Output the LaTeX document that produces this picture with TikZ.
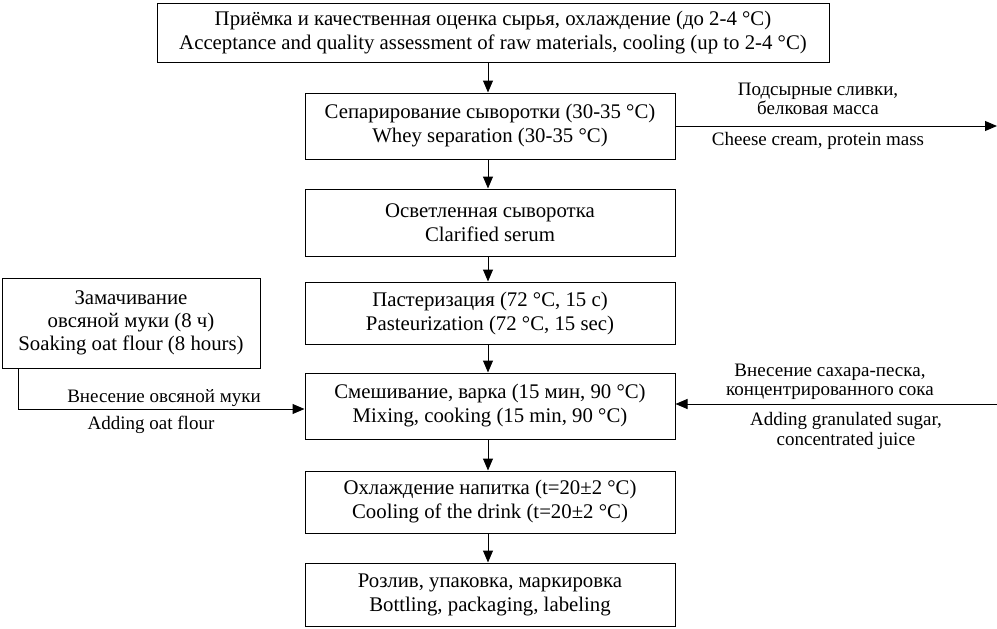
\documentclass[tikz,border=0pt]{standalone}
\usepackage{fontspec}
\setmainfont{Liberation Serif}
\usetikzlibrary{arrows.meta}
\begin{document}
\begin{tikzpicture}[x=1pt,y=-1pt,
  box/.style={draw,line width=1pt,rectangle,align=center,inner sep=0pt,
    font=\fontsize{20.8}{24}\selectfont},
  lab/.style={align=center,inner sep=0pt,font=\fontsize{19}{19.5}\selectfont},
  arr/.style={line width=1pt,-{Triangle[length=12pt,width=10pt]}}]
\useasboundingbox (0,0) rectangle (997,629);
\node[box,minimum width=672,minimum height=59] (b1) at (493,32.5)
  {Приёмка и качественная оценка сырья, охлаждение (до 2-4 °C)\\Acceptance and quality assessment of raw materials, cooling (up to 2-4 °C)};
\node[box,minimum width=370,minimum height=66] (b2) at (490,126)
  {Сепарирование сыворотки (30-35 °C)\\Whey separation (30-35 °C)};
\node[box,minimum width=370,minimum height=67] (b3) at (490,222.5)
  {Осветленная сыворотка\\Clarified serum};
\node[box,minimum width=370,minimum height=62] (b4) at (490,313)
  {Пастеризация (72 °C, 15 с)\\Pasteurization (72 °C, 15 sec)};
\node[box,minimum width=370,minimum height=66] (b5) at (490,406)
  {Смешивание, варка (15 мин, 90 °C)\\Mixing, cooking (15 min, 90 °C)};
\node[box,minimum width=370,minimum height=62] (b6) at (490,502)
  {Охлаждение напитка (t=20±2 °C)\\Cooling of the drink (t=20±2 °C)};
\node[box,minimum width=370,minimum height=63] (b7) at (490,594.5)
  {Розлив, упаковка, маркировка\\Bottling, packaging, labeling};
\node[box,minimum width=258,minimum height=90,font=\fontsize{20.8}{23}\selectfont] (l1) at (131,323)
  {Замачивание\\овсяной муки (8 ч)\\Soaking oat flour (8 hours)};
\foreach \a/\b in {b1/b2,b2/b3,b3/b4,b4/b5,b5/b6,b6/b7}
  \draw[arr] (\a.south -| 488,0) -- (\b.north -| 488,0);
\coordinate (rout) at (997,126);
\draw[arr] (b2.east) -- (rout);
\node[lab] (t1) at (818,99) {Подсырные сливки,\\белковая масса};
\node[lab] (t2) at (818,141) {Cheese cream, protein mass};
\coordinate (rin) at (997,404);
\draw[arr] (rin) -- (b5.east |- rin);
\node[lab] (t3) at (830,382) {Внесение сахара-песка,\\концентрированного сока};
\node[lab] (t4) at (846,431) {Adding granulated sugar,\\concentrated juice};
\coordinate (lc) at (18,409);
\draw[arr] (l1.south -| lc) -- (lc) -- (b5.west |- lc);
\node[lab] (t5) at (164,398) {Внесение овсяной муки};
\node[lab] (t6) at (151,425) {Adding oat flour};
\end{tikzpicture}
\end{document}
